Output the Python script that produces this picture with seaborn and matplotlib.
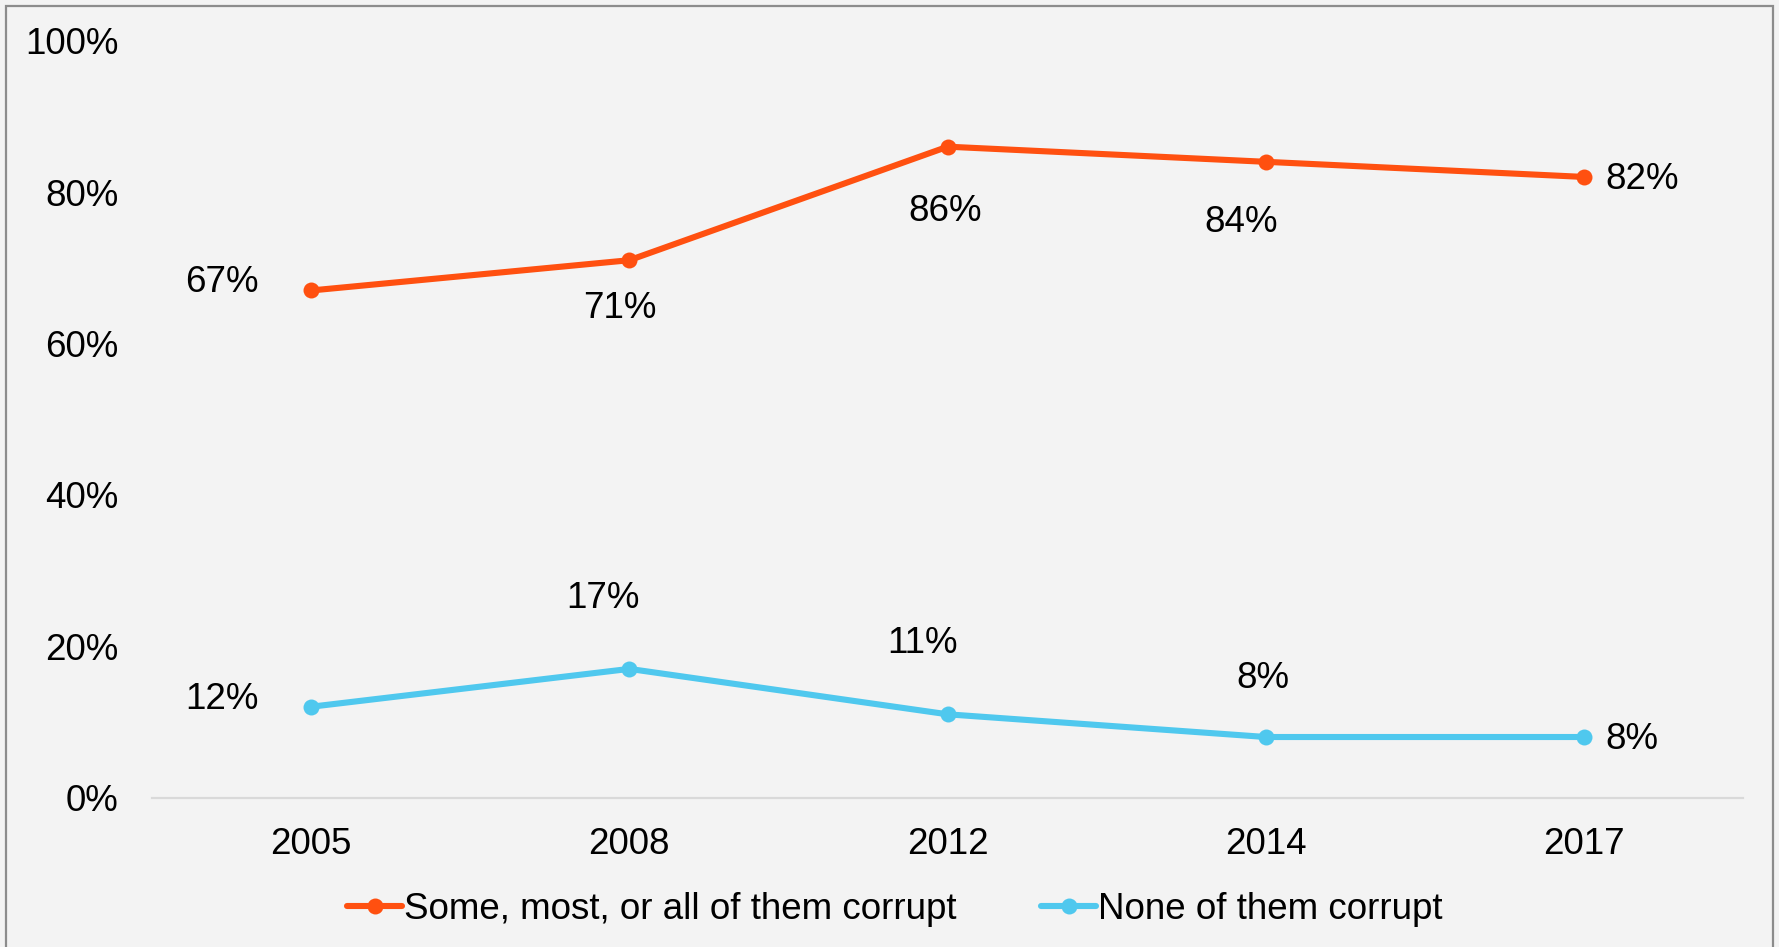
import pandas as pd
import matplotlib
matplotlib.use("Agg")
import matplotlib.pyplot as plt
import seaborn as sns
from matplotlib.patches import Rectangle

# data
years = ["2005", "2008", "2012", "2014", "2017"]
corrupt = [0.67, 0.71, 0.86, 0.84, 0.82]
not_corrupt = [0.12, 0.17, 0.11, 0.08, 0.08]
series_names = ["Some, most, or all of them corrupt", "None of them corrupt"]

colors = ["#FF5010", "#4FC8EE"]
bg = "#F3F3F3"
fs = 26.5

# label offsets from each point, in points (Excel places them a bit unevenly)
corrupt_offsets = [(-64, 6), (-7, -35), (-2, -47), (-18, -44), (42, -2)]
not_corrupt_offsets = [(-64, 5), (-19, 51), (-18, 51), (-2, 42), (34, -2)]

sns.set_theme(style="white")
plt.rcParams["font.family"] = ["Liberation Sans", "DejaVu Sans"]

df = pd.DataFrame({
    "Year": years * 2,
    "Share": corrupt + not_corrupt,
    "Series": [series_names[0]] * len(years) + [series_names[1]] * len(years),
})

fig = plt.figure(figsize=(17.79, 9.47), dpi=100, facecolor=bg)
ax = fig.add_axes([0.0854, 0.1578, 0.8946, 0.7992])
ax.set_facecolor("none")

sns.lineplot(data=df, x="Year", y="Share", hue="Series", palette=colors,
             marker="o", markersize=11.5, markeredgewidth=0, linewidth=4.4,
             sort=False, ax=ax, legend=True)

ax.set_xlim(-0.5, len(years) - 0.5)
ax.set_ylim(0, 1)
ax.set_yticks([0, 0.2, 0.4, 0.6, 0.8, 1.0])
ax.set_yticklabels([f"{int(v * 100)}%" for v in ax.get_yticks()])
ax.set_xlabel("")
ax.set_ylabel("")
ax.tick_params(axis="both", length=0, labelsize=fs, colors="black")
ax.tick_params(axis="y", pad=24)
ax.tick_params(axis="x", pad=21)

for s in ["top", "right", "left"]:
    ax.spines[s].set_visible(False)
ax.spines["bottom"].set_color("#D9D9D9")
ax.spines["bottom"].set_linewidth(1.6)

for vals, offs in [(corrupt, corrupt_offsets), (not_corrupt, not_corrupt_offsets)]:
    for i, (v, (dx, dy)) in enumerate(zip(vals, offs)):
        ax.annotate(f"{round(v * 100)}%", (i, v), xytext=(dx, dy),
                    textcoords="offset points", ha="center", va="center",
                    fontsize=fs, color="black")

handles, labels = ax.get_legend_handles_labels()
ax.get_legend().remove()
leg = fig.legend(handles, labels, loc="center", bbox_to_anchor=(0.503, 0.040),
                 ncol=2, frameon=False, fontsize=fs, handlelength=1.5,
                 handletextpad=0.05, columnspacing=2.3)
for t in leg.get_texts():
    t.set_color("black")

# chart border
fig.patches.append(Rectangle((6 / 1779, -0.05), 1767 / 1779, 0.05 + 941 / 947,
                             transform=fig.transFigure, fill=False,
                             edgecolor="#8C8C8C", linewidth=1.6))

fig.savefig("out.png", dpi=100, facecolor=bg)
